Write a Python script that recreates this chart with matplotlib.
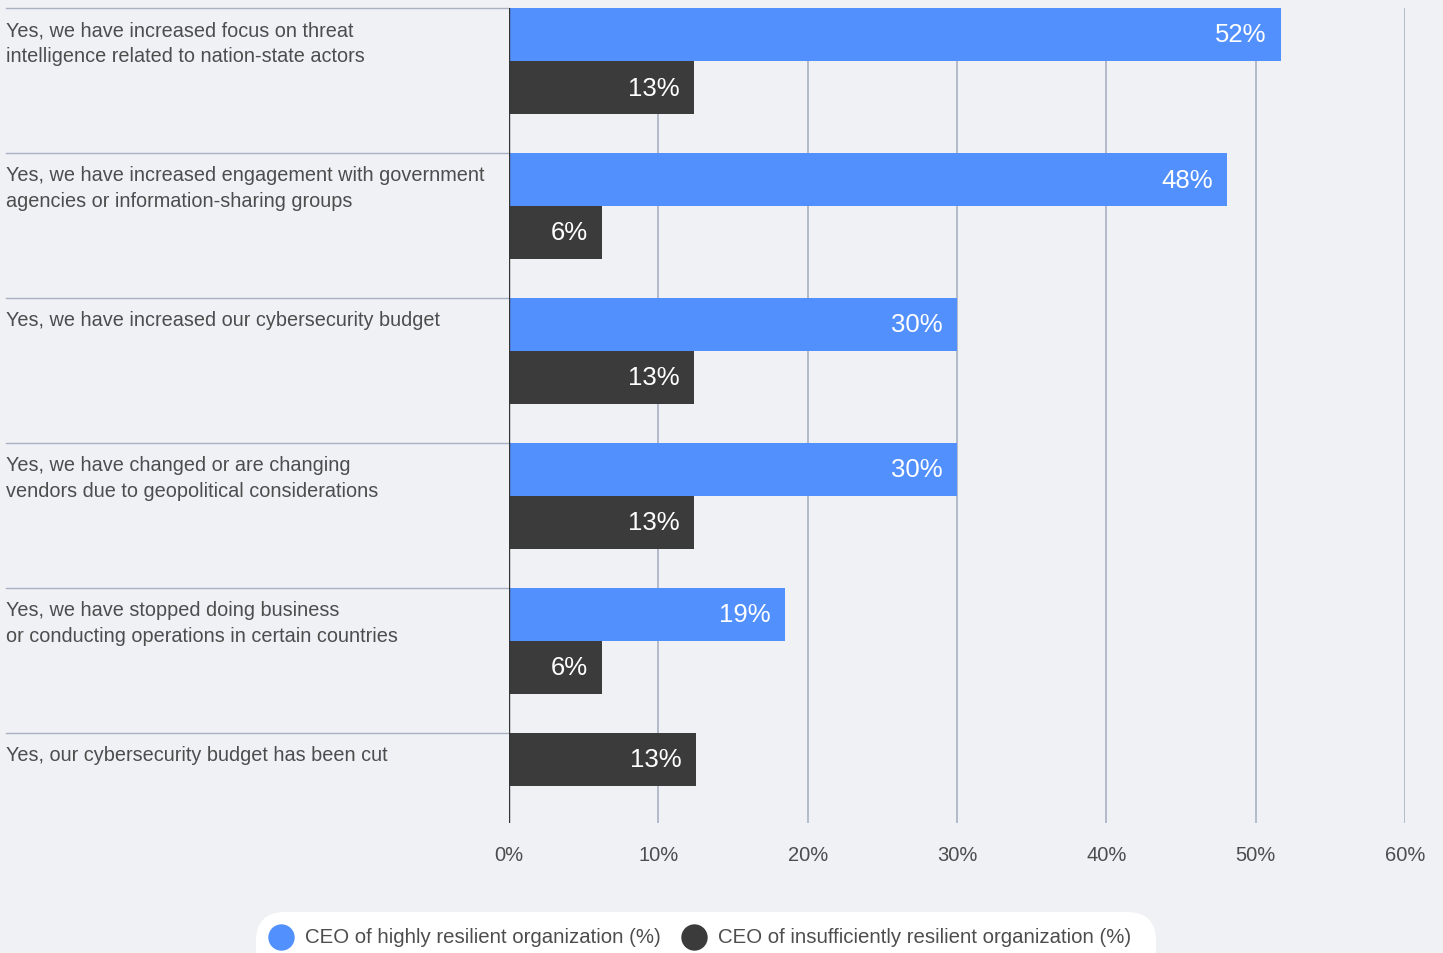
import numpy as np
import matplotlib.pyplot as plt
from matplotlib.patches import FancyBboxPatch
from matplotlib.lines import Line2D
import matplotlib.transforms as mtransforms

plt.rcParams['font.family'] = ['Liberation Sans', 'DejaVu Sans']

# data
categories = [
    "Yes, we have increased focus on threat\nintelligence related to nation-state actors",
    "Yes, we have increased engagement with government\nagencies or information-sharing groups",
    "Yes, we have increased our cybersecurity budget",
    "Yes, we have changed or are changing\nvendors due to geopolitical considerations",
    "Yes, we have stopped doing business\nor conducting operations in certain countries",
    "Yes, our cybersecurity budget has been cut",
]
high_vals = [51.7, 48.1, 30.0, 30.0, 18.5, None]
high_labels = ["52%", "48%", "30%", "30%", "19%", None]
low_vals = [12.4, 6.2, 12.4, 12.4, 6.2, 12.5]
low_labels = ["13%", "6%", "13%", "13%", "6%", "13%"]
xticks = [0, 10, 20, 30, 40, 50, 60]
series_names = ["CEO of highly resilient organization (%)",
                "CEO of insufficiently resilient organization (%)"]

bg = '#eff1f5'
blue = '#5290fe'
dark = '#3b3b3b'
grid_c = '#a9b1c2'
text_c = '#4d4d4d'

W, H = 1443, 954
fig = plt.figure(figsize=(W / 100, H / 100), dpi=100, facecolor=bg)
ax = fig.add_axes([509 / W, 1 - 824 / H, (1405 - 509) / W, (824 - 9) / H])
ax.set_facecolor(bg)

bar_h = 53 / 145
for i, cat in enumerate(categories):
    slot = 0
    if high_vals[i] is not None:
        ax.barh(i, high_vals[i], height=bar_h, align='edge', color=blue, zorder=3)
        ax.text(high_vals[i] - 0.95, i + bar_h / 2, high_labels[i], color='white',
                fontsize=18.5, ha='right', va='center', zorder=4)
        slot = 1
    y0 = i + slot * bar_h
    ax.barh(y0, low_vals[i], height=bar_h, align='edge', color=dark, zorder=3)
    ax.text(low_vals[i] - 0.95, y0 + bar_h / 2, low_labels[i], color='white',
            fontsize=18.5, ha='right', va='center', zorder=4)

    # separator line and category label in the left margin
    trans = mtransforms.blended_transform_factory(ax.transAxes, ax.transData)
    ax.plot([-503 / 896, 0], [i, i], color=grid_c, lw=1, transform=trans,
            clip_on=False)
    ax.text(-503 / 896, i + 0.083, cat, transform=trans, fontsize=14.3,
            color=text_c, ha='left', va='top', linespacing=1.45)

ax.set_xlim(0, 60)
ax.set_ylim(815 / 145, 0)
ax.set_xticks(xticks)
ax.set_xticklabels([f"{t}%" for t in xticks], fontsize=14.5, color=text_c)
ax.set_yticks([])
ax.tick_params(axis='x', length=0, pad=16)
for t in xticks[1:]:
    ax.axvline(t, color=grid_c, lw=1.2, zorder=1)
ax.axvline(0, color='#333333', lw=1, zorder=5)
for s in ax.spines.values():
    s.set_visible(False)

# legend box at the bottom
box = FancyBboxPatch((256 / W, -0.05), (1156 - 256) / W, (954 - 913) / H + 0.05,
                     boxstyle="round,pad=0,rounding_size=0.02",
                     transform=fig.transFigure, facecolor='white', edgecolor='none',
                     mutation_aspect=W / H)
fig.add_artist(box)
ly = 1 - 938 / H
for xc, xt, c, name in [(281, 305, blue, series_names[0]), (694, 718, dark, series_names[1])]:
    fig.add_artist(Line2D([xc / W], [ly], marker='o', markersize=19, color=c,
                          markeredgewidth=0, transform=fig.transFigure))
    fig.text(xt / W, ly, name, fontsize=14.7, color=text_c, ha='left', va='center')

fig.savefig('out.png', dpi=100, facecolor=bg)
